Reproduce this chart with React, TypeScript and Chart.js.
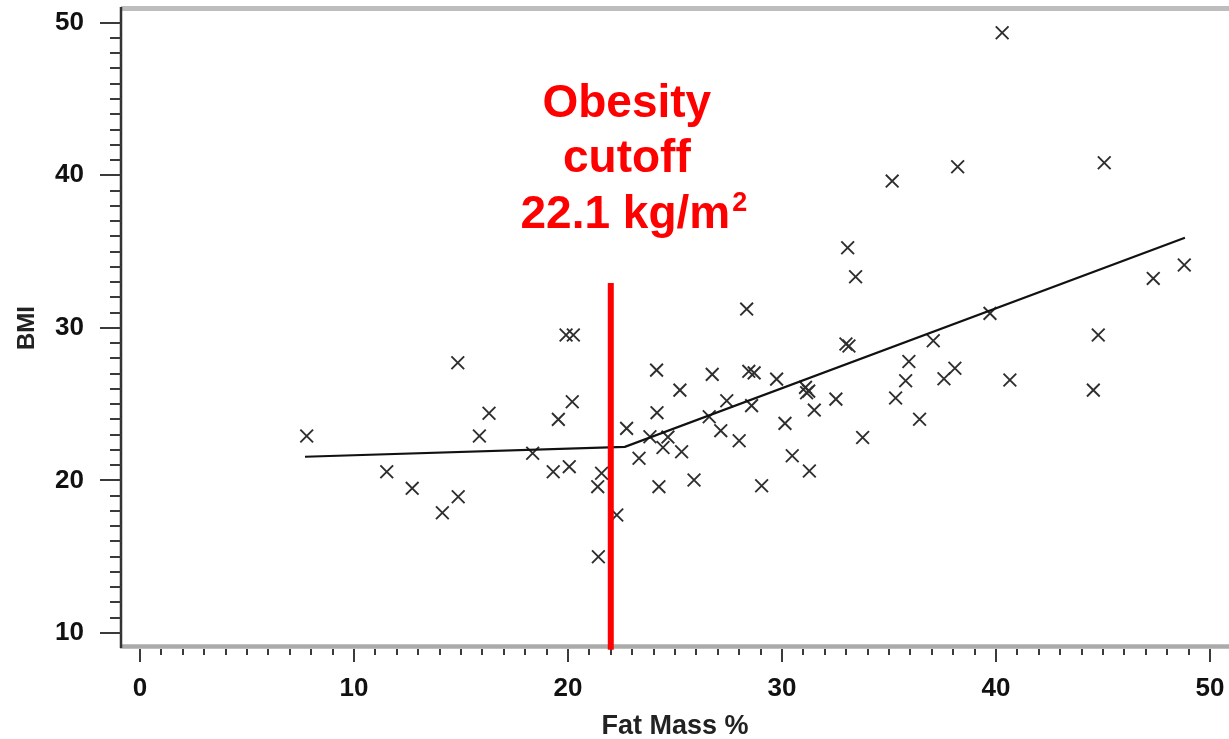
import { useEffect, useRef } from "react";
import { Chart, registerables } from "chart.js";

Chart.register(...registerables);

// Scatter data: Fat Mass % vs BMI
const fatMass = [7.79, 11.53, 12.72, 14.13, 14.87, 14.85, 15.86, 16.31, 18.35, 19.31, 19.55, 19.91, 20.25, 20.06, 20.2, 21.39, 21.57, 21.42, 22.28, 22.74, 23.32, 23.83, 24.14, 24.16, 24.25, 24.44, 24.67, 25.23, 25.31, 25.89, 26.6, 26.74, 27.14, 27.42, 28.0, 28.35, 28.45, 28.7, 28.58, 29.05, 29.75, 30.14, 30.48, 31.1, 31.25, 31.15, 31.28, 31.51, 32.52, 33.07, 33.44, 32.99, 33.13, 33.77, 35.15, 35.31, 35.78, 35.93, 36.43, 37.07, 37.57, 38.08, 38.21, 39.72, 40.29, 40.65, 44.55, 44.78, 45.06, 47.35, 48.8];
const bmi = [22.91, 20.57, 19.48, 17.88, 18.93, 27.71, 22.91, 24.4, 21.78, 20.57, 24.0, 29.53, 29.53, 20.9, 25.16, 19.59, 20.47, 15.0, 17.73, 23.41, 21.45, 22.86, 27.23, 24.44, 19.59, 22.16, 22.84, 25.92, 21.88, 20.03, 24.17, 26.95, 23.26, 25.22, 22.6, 31.23, 27.15, 27.05, 24.9, 19.65, 26.64, 23.74, 21.62, 26.1, 25.85, 25.75, 20.62, 24.61, 25.33, 35.25, 33.35, 28.94, 28.81, 22.81, 39.62, 25.4, 26.53, 27.79, 24.01, 29.15, 26.66, 27.35, 40.56, 30.95, 49.34, 26.58, 25.92, 29.53, 40.82, 33.24, 34.12];

// Piecewise fitted line
const fitX = [7.71, 22.66, 48.83];
const fitY = [21.55, 22.2, 35.9];

// Obesity cutoff marker
const cutoffX = [22.0, 22.0];
const cutoffY = [8.9, 32.94];

// Axis ticks
const xTickValues = [0, 10, 20, 30, 40, 50];
const yTickValues = [10, 20, 30, 40, 50];
const xMinorRange = [0, 50];
const yMinorRange = [10, 50];

// Annotation text
const annotationLines = ["Obesity", "cutoff", "22.1 kg/m"];
const annotationSup = "2";
const annotationX = 22.75;
const annotationBaselines = [43.82, 40.21, 36.52];

const FONT = '"Liberation Sans", Arial, Helvetica, sans-serif';

const axesPlugin = {
  id: "axesDecor",
  beforeDatasetsDraw(chart: any) {
    const { ctx, chartArea } = chart;
    const { left, right, top, bottom } = chartArea;
    const xs = chart.scales.x;
    const ys = chart.scales.y;
    ctx.save();
    // top border
    ctx.strokeStyle = "#bdbdbd";
    ctx.lineWidth = 5;
    ctx.beginPath();
    ctx.moveTo(left, top - 0.5);
    ctx.lineTo(right, top - 0.5);
    ctx.stroke();
    // bottom border
    ctx.strokeStyle = "#ababab";
    ctx.lineWidth = 4.5;
    ctx.beginPath();
    ctx.moveTo(left - 1, bottom - 0.5);
    ctx.lineTo(right, bottom - 0.5);
    ctx.stroke();
    // left border
    ctx.strokeStyle = "#333";
    ctx.lineWidth = 2.5;
    ctx.beginPath();
    ctx.moveTo(left, top - 2);
    ctx.lineTo(left, bottom + 1);
    ctx.stroke();
    // y ticks
    ctx.lineWidth = 2;
    ctx.strokeStyle = "#3a3a3a";
    for (let v = yMinorRange[0]; v <= yMinorRange[1]; v++) {
      const py = Math.round(ys.getPixelForValue(v));
      const major = v % 10 === 0;
      ctx.beginPath();
      ctx.moveTo(major ? left - 21 : left - 11, py);
      ctx.lineTo(left, py);
      ctx.stroke();
    }
    // x ticks
    for (let v = xMinorRange[0]; v <= xMinorRange[1]; v++) {
      const px = Math.round(xs.getPixelForValue(v));
      const major = v % 10 === 0;
      ctx.beginPath();
      ctx.moveTo(px, bottom + 2);
      ctx.lineTo(px, major ? bottom + 15 : bottom + 8);
      ctx.stroke();
    }
    ctx.restore();
  },
  afterDraw(chart: any) {
    const { ctx } = chart;
    const xs = chart.scales.x;
    const ys = chart.scales.y;
    const cx = xs.getPixelForValue(annotationX);
    ctx.save();
    ctx.fillStyle = "#ff0000";
    ctx.textBaseline = "alphabetic";
    ctx.font = `bold 46px ${FONT}`;
    ctx.textAlign = "center";
    ctx.fillText(annotationLines[0], cx, ys.getPixelForValue(annotationBaselines[0]));
    ctx.fillText(annotationLines[1], cx, ys.getPixelForValue(annotationBaselines[1]));
    // third line with superscript
    const main = annotationLines[2];
    const mainW = ctx.measureText(main).width;
    ctx.font = `bold 27px ${FONT}`;
    const supW = ctx.measureText(annotationSup).width;
    const total = mainW + supW;
    const startX = cx - total / 2 + 6;
    const by = ys.getPixelForValue(annotationBaselines[2]);
    ctx.textAlign = "left";
    ctx.font = `bold 46px ${FONT}`;
    ctx.fillText(main, startX, by);
    ctx.font = `bold 27px ${FONT}`;
    ctx.fillText(annotationSup, startX + mainW + 2, by - 17);
    ctx.restore();
  },
};

export default function App() {
  const canvasRef = useRef<HTMLCanvasElement | null>(null);

  useEffect(() => {
    document.body.style.margin = "0";
    const canvas = canvasRef.current;
    if (!canvas) return;
    const points = fatMass.map((x, i) => ({ x, y: bmi[i] }));
    const fit = fitX.map((x, i) => ({ x, y: fitY[i] }));
    const cutoff = cutoffX.map((x, i) => ({ x, y: cutoffY[i] }));

    const chart = new Chart(canvas, {
      type: "scatter",
      data: {
        datasets: [
          {
            label: "Subjects",
            data: points,
            pointStyle: "crossRot",
            pointRadius: 9,
            pointBorderWidth: 1.9,
            borderColor: "#2e2e2e",
            backgroundColor: "#2e2e2e",
            showLine: false,
            order: 2,
          } as any,
          {
            label: "Fit",
            type: "line",
            data: fit,
            borderColor: "#111",
            borderWidth: 2.2,
            pointRadius: 0,
            showLine: true,
            fill: false,
            tension: 0,
            order: 1,
          } as any,
          {
            label: "Cutoff",
            type: "line",
            data: cutoff,
            borderColor: "#ff0000",
            borderWidth: 6,
            borderCapStyle: "butt",
            pointRadius: 0,
            showLine: true,
            fill: false,
            clip: false,
            order: 0,
          } as any,
        ],
      },
      options: {
        responsive: false,
        animation: false,
        devicePixelRatio: 1,
        layout: { autoPadding: false, padding: { top: 9, right: 0, left: 0, bottom: 0 } },
        plugins: {
          legend: { display: false },
          tooltip: { enabled: false },
        },
        scales: {
          x: {
            type: "linear",
            min: -0.888,
            max: 50.89,
            grid: { display: false, drawTicks: true, tickLength: 26 },
            border: { display: false },
            afterBuildTicks: (scale: any) => {
              scale.ticks = xTickValues.map((v) => ({ value: v }));
            },
            afterFit: (scale: any) => {
              scale.height = 92;
              scale.paddingLeft = 0;
              scale.paddingRight = 0;
            },
            ticks: {
              autoSkip: false,
              maxRotation: 0,
              padding: 0,
              color: "#111",
              font: { family: FONT, size: 26, weight: "bold" },
              callback: (v: any) => String(v),
            },
            title: {
              display: true,
              text: "Fat Mass %",
              color: "#222",
              font: { family: FONT, size: 27, weight: "bold", lineHeight: 0.9 },
              padding: { top: 0, bottom: 0 },
            },
          },
          y: {
            type: "linear",
            min: 9.08,
            max: 50.9,
            grid: { display: false, drawTicks: true, tickLength: 37 },
            border: { display: false },
            afterBuildTicks: (scale: any) => {
              scale.ticks = yTickValues.map((v) => ({ value: v }));
            },
            afterFit: (scale: any) => {
              scale.width = 121;
              scale.paddingTop = 0;
              scale.paddingBottom = 0;
            },
            ticks: {
              autoSkip: false,
              padding: 0,
              color: "#111",
              font: { family: FONT, size: 26, weight: "bold" },
              callback: (v: any) => String(v),
            },
            title: {
              display: true,
              text: "BMI",
              color: "#222",
              font: { family: FONT, size: 24, weight: "bold", lineHeight: 1.2 },
              padding: { top: 12.6, bottom: 0 },
            },
          },
        },
      },
      plugins: [axesPlugin],
    });
    return () => chart.destroy();
  }, []);

  return (
    <div style={{ position: "absolute", left: 0, top: 0, width: 1229, height: 739, background: "#fff" }}>
      <canvas ref={canvasRef} width={1229} height={739} style={{ display: "block" }} />
    </div>
  );
}
